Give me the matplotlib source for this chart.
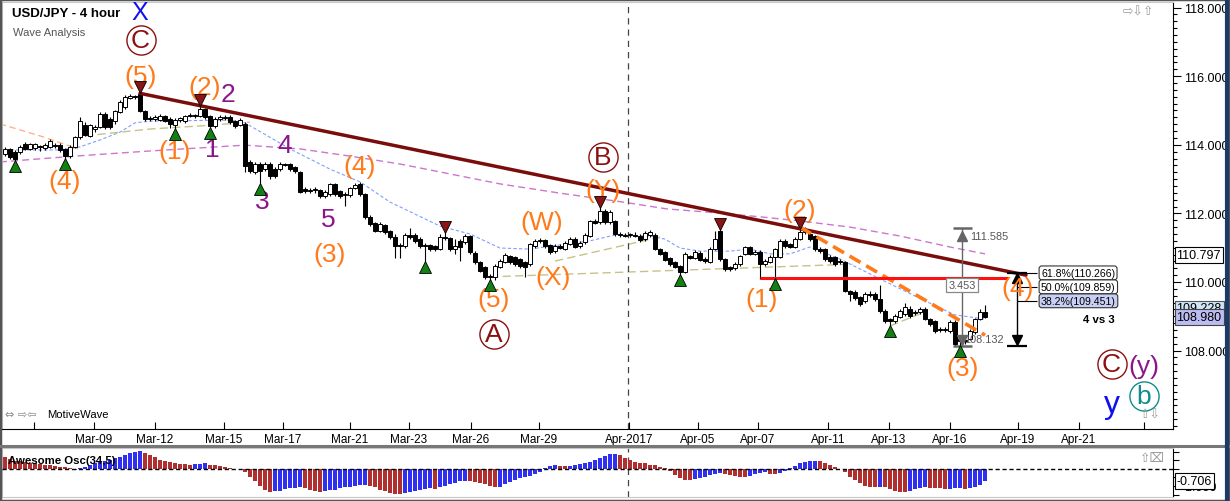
import numpy as np
import matplotlib
matplotlib.use('Agg')
import matplotlib.pyplot as plt
from matplotlib.lines import Line2D
from matplotlib.patches import Rectangle

plt.rcParams['font.family'] = ['Liberation Sans', 'DejaVu Sans']

# ---- 4 hour candles, USD/JPY (index 0 = first visible candle) ----
opens = [
    113.73, 113.88, 113.80, 113.79, 114.02, 113.88, 113.91, 113.96, 113.91, 113.94,
    114.00, 113.99, 113.88, 113.67, 113.94, 114.23, 114.58, 114.26, 114.45, 114.52,
    114.90, 114.75, 114.69, 114.96, 115.10, 115.36, 115.42, 115.48, 114.99, 114.78,
    114.75, 114.72, 114.84, 114.75, 114.58, 114.72, 114.69, 114.84, 114.87, 114.84,
    115.04, 114.84, 114.55, 114.75, 114.78, 114.81, 114.69, 114.58, 114.61, 113.50,
    113.21, 113.44, 113.29, 113.44, 113.29, 113.29, 113.44, 113.44, 113.35, 113.21,
    112.71, 112.65, 112.68, 112.68, 112.51, 112.57, 112.86, 112.65, 112.54, 112.54,
    112.74, 112.86, 112.57, 111.90, 111.72, 111.49, 111.66, 111.49, 111.31, 111.08,
    111.05, 111.37, 111.37, 111.25, 111.08, 111.08, 111.05, 110.96, 111.31, 111.28,
    110.96, 111.20, 111.17, 111.34, 110.85, 110.58, 110.44, 110.17, 110.15, 110.44,
    110.58, 110.76, 110.73, 110.67, 110.58, 110.52, 111.05, 111.20, 111.22, 111.08,
    110.90, 111.05, 110.96, 111.11, 111.25, 111.05, 111.17, 111.34, 111.78, 111.75,
    112.07, 111.75, 111.78, 111.40, 111.37, 111.37, 111.37, 111.34, 111.25, 111.37,
    111.37, 110.96, 110.87, 110.70, 110.58, 110.47, 110.29, 110.76, 110.70, 110.85,
    110.67, 110.58, 110.96, 111.49, 110.67, 110.44, 110.40, 110.52, 110.82, 111.02,
    110.82, 110.87, 110.52, 110.58, 110.73, 110.73, 111.20, 111.11, 111.02, 111.25,
    111.46, 111.40, 111.34, 110.96, 110.96, 110.73, 110.73, 110.61, 110.58, 109.74,
    109.71, 109.56, 109.45, 109.65, 109.65, 109.50, 109.15, 108.92, 108.86, 108.98,
    109.07, 109.21, 109.10, 109.12, 109.21, 108.92, 108.86, 108.63, 108.60, 108.57,
    108.83, 108.34, 108.28, 108.34, 108.55, 108.92, 109.12]
closes = [
    113.88, 113.64, 113.59, 113.94, 113.88, 114.02, 114.02, 113.94, 113.99, 114.11,
    113.97, 113.85, 113.67, 113.94, 114.23, 114.69, 114.29, 114.58, 114.52, 114.90,
    114.52, 114.52, 114.99, 115.25, 115.39, 115.42, 115.38, 114.99, 114.75, 114.75,
    114.80, 114.84, 114.69, 114.61, 114.72, 114.78, 114.84, 114.87, 114.84, 115.04,
    114.81, 114.55, 114.75, 114.81, 114.81, 114.66, 114.55, 114.72, 113.38, 113.24,
    113.44, 113.24, 113.44, 113.09, 113.09, 113.44, 113.41, 113.29, 113.24, 112.62,
    112.65, 112.68, 112.71, 112.51, 112.62, 112.86, 112.57, 112.51, 112.57, 112.74,
    112.83, 112.57, 111.90, 111.69, 111.49, 111.69, 111.46, 111.31, 111.05, 111.05,
    111.37, 111.31, 111.20, 111.05, 111.05, 110.96, 110.96, 111.31, 111.28, 110.96,
    111.05, 111.02, 111.34, 110.87, 110.58, 110.32, 110.15, 110.15, 110.47, 110.61,
    110.79, 110.58, 110.52, 110.47, 110.44, 111.11, 111.20, 111.22, 111.05, 110.87,
    111.05, 111.00, 111.14, 111.25, 111.02, 111.14, 111.37, 111.78, 111.72, 112.07,
    111.75, 112.04, 111.40, 111.37, 111.34, 111.37, 111.34, 111.22, 111.43, 111.46,
    110.96, 110.82, 110.64, 110.52, 110.44, 110.29, 110.82, 110.70, 110.87, 110.64,
    110.61, 110.96, 111.25, 110.67, 110.38, 110.38, 110.52, 110.76, 111.02, 110.82,
    110.87, 110.52, 110.61, 110.73, 110.96, 111.20, 111.05, 111.02, 111.25, 111.46,
    111.49, 111.25, 110.96, 110.90, 110.67, 110.61, 110.52, 110.58, 109.74, 109.65,
    109.53, 109.36, 109.65, 109.62, 109.50, 109.15, 108.86, 108.86, 109.01, 109.15,
    109.27, 109.01, 109.12, 109.21, 108.92, 108.78, 108.57, 108.60, 108.63, 108.83,
    108.19, 108.28, 108.31, 108.57, 108.92, 109.12, 108.98]
highs = [
    113.95, 113.92, 113.85, 114.00, 114.08, 114.06, 114.05, 114.00, 114.04, 114.18,
    114.06, 114.04, 113.92, 113.98, 114.26, 114.81, 114.66, 114.62, 114.58, 114.95,
    114.95, 114.80, 115.02, 115.30, 115.45, 115.47, 115.46, 115.54, 115.02, 114.85,
    114.86, 114.90, 114.88, 114.80, 114.78, 114.82, 114.88, 114.92, 114.90, 115.16,
    115.08, 114.88, 114.80, 114.86, 114.86, 114.86, 114.72, 114.78, 114.66, 113.55,
    113.50, 113.50, 113.50, 113.50, 113.35, 113.50, 113.47, 113.48, 113.38, 113.24,
    112.76, 112.74, 112.76, 112.72, 112.68, 112.90, 112.90, 112.68, 112.62, 112.78,
    112.88, 112.92, 112.60, 111.94, 111.75, 111.75, 111.70, 111.52, 111.40, 111.15,
    111.42, 111.58, 111.42, 111.30, 111.15, 111.12, 111.08, 111.40, 111.46, 111.32,
    111.25, 111.25, 111.40, 111.38, 110.90, 110.62, 110.48, 110.22, 110.52, 110.66,
    110.84, 110.80, 110.76, 110.70, 110.62, 111.15, 111.25, 111.28, 111.26, 111.12,
    111.10, 111.10, 111.20, 111.30, 111.30, 111.20, 111.42, 111.82, 111.84, 112.19,
    112.12, 112.10, 111.82, 111.45, 111.42, 111.42, 111.45, 111.40, 111.50, 111.52,
    111.42, 111.00, 110.90, 110.74, 110.62, 110.50, 110.86, 110.80, 110.92, 110.90,
    110.72, 111.02, 111.48, 111.55, 110.70, 110.48, 110.58, 110.80, 111.06, 111.06,
    110.94, 110.92, 110.66, 110.78, 111.00, 111.25, 111.24, 111.15, 111.30, 111.58,
    111.59, 111.45, 111.38, 111.02, 111.00, 110.78, 110.76, 110.66, 110.62, 109.78,
    109.76, 109.60, 109.70, 109.75, 109.70, 109.92, 109.20, 108.96, 109.06, 109.20,
    109.40, 109.30, 109.18, 109.28, 109.26, 108.96, 108.90, 108.68, 108.68, 108.88,
    108.88, 108.40, 108.38, 108.62, 108.96, 109.20, 109.32]
lows = [
    113.68, 113.60, 113.52, 113.72, 113.84, 113.84, 113.86, 113.82, 113.86, 113.90,
    113.92, 113.80, 113.59, 113.62, 113.90, 114.18, 114.25, 114.22, 114.38, 114.48,
    114.46, 114.46, 114.62, 114.92, 115.05, 115.33, 115.33, 114.95, 114.70, 114.70,
    114.70, 114.68, 114.65, 114.49, 114.46, 114.66, 114.64, 114.80, 114.78, 114.80,
    114.76, 114.49, 114.50, 114.70, 114.72, 114.62, 114.50, 114.55, 113.20, 113.18,
    113.15, 112.86, 113.24, 113.00, 113.02, 113.24, 113.38, 113.24, 113.18, 112.58,
    112.60, 112.60, 112.60, 112.46, 112.46, 112.52, 112.52, 112.46, 112.22, 112.48,
    112.70, 112.52, 111.85, 111.62, 111.45, 111.45, 111.40, 111.25, 110.70, 110.70,
    111.00, 111.25, 111.15, 111.00, 110.58, 110.90, 110.90, 110.92, 111.22, 110.90,
    110.82, 110.61, 111.12, 110.82, 110.52, 110.28, 110.10, 110.06, 110.06, 110.40,
    110.55, 110.52, 110.48, 110.42, 110.15, 110.48, 111.00, 111.15, 111.00, 110.82,
    110.85, 110.95, 110.92, 111.08, 110.98, 111.00, 111.12, 111.30, 111.68, 111.70,
    111.70, 111.70, 111.35, 111.32, 111.30, 111.32, 111.30, 111.18, 111.20, 111.32,
    110.92, 110.78, 110.60, 110.48, 110.40, 110.20, 110.26, 110.66, 110.66, 110.60,
    110.56, 110.55, 110.92, 110.62, 110.32, 110.32, 110.35, 110.48, 110.78, 110.78,
    110.78, 110.08, 110.48, 110.54, 110.10, 110.70, 111.00, 110.98, 110.98, 111.22,
    111.40, 111.20, 110.90, 110.85, 110.62, 110.56, 110.48, 110.52, 109.70, 109.45,
    109.48, 109.30, 109.40, 109.56, 109.45, 109.10, 108.80, 108.72, 108.80, 108.94,
    109.02, 108.96, 109.04, 109.08, 108.88, 108.72, 108.52, 108.55, 108.55, 108.52,
    108.14, 108.13, 108.20, 108.30, 108.48, 108.88, 108.94]

# Awesome Oscillator (34,5), one value per candle
ao = [
    0.69, 0.59, 0.49, 0.45, 0.39, 0.35, 0.33, 0.29, 0.25, 0.22,
    0.18, 0.14, 0.10, 0.04, -0.06, 0.06, 0.14, 0.22, 0.33, 0.43,
    0.49, 0.55, 0.65, 0.73, 0.82, 0.92, 1.00, 1.03, 0.92, 0.82,
    0.69, 0.53, 0.45, 0.39, 0.33, 0.29, 0.28, 0.24, 0.29, 0.31,
    0.35, 0.25, 0.22, 0.18, 0.14, 0.08, 0.02, -0.02, -0.20, -0.45,
    -0.73, -0.98, -1.22, -1.33, -1.32, -1.27, -1.18, -1.12, -1.10, -1.08,
    -1.12, -1.22, -1.29, -1.33, -1.27, -1.24, -1.22, -1.14, -1.08, -1.04,
    -1.02, -0.94, -0.92, -0.98, -1.04, -1.22, -1.31, -1.39, -1.45, -1.47,
    -1.43, -1.37, -1.31, -1.22, -1.18, -1.14, -1.16, -1.08, -0.98, -0.88,
    -0.80, -0.73, -0.69, -0.71, -0.75, -0.82, -0.90, -1.02, -1.08, -1.04,
    -0.90, -0.75, -0.63, -0.53, -0.49, -0.39, -0.29, -0.16, 0.06, 0.16,
    0.24, 0.18, 0.16, 0.17, 0.22, 0.27, 0.35, 0.43, 0.55, 0.65,
    0.75, 0.86, 0.88, 0.82, 0.65, 0.53, 0.39, 0.35, 0.33, 0.25,
    0.22, 0.10, 0.04, -0.10, -0.33, -0.53, -0.63, -0.64, -0.61, -0.55,
    -0.45, -0.35, -0.29, -0.25, -0.29, -0.35, -0.43, -0.45, -0.46, -0.39,
    -0.29, -0.22, -0.20, -0.29, -0.30, -0.24, -0.10, 0.06, 0.16, 0.33,
    0.39, 0.45, 0.47, 0.45, 0.33, 0.24, 0.10, 0.00, -0.20, -0.45,
    -0.63, -0.82, -0.98, -1.04, -1.05, -1.03, -1.08, -1.18, -1.27, -1.33,
    -1.34, -1.27, -1.18, -1.12, -1.08, -1.09, -1.10, -1.13, -1.16, -1.15,
    -1.14, -1.13, -1.16, -1.10, -1.05, -0.92, -0.71]

# moving averages (candle index, price) vertices
ma_fast_i = [0, 11, 15, 19, 23, 26, 29, 45, 48, 57, 65, 71, 77, 87, 93, 99, 105, 111,
             117, 122, 129, 132, 135, 139, 145, 149, 153, 157, 161, 167, 175, 184, 190, 196]
ma_fast_p = [113.85, 113.85, 113.94, 114.14, 114.37, 114.64, 114.69, 114.72, 114.64,
             113.88, 113.29, 112.92, 112.33, 111.63, 111.40, 110.99, 110.96, 111.08,
             111.20, 111.37, 111.34, 111.25, 110.99, 110.90, 110.90, 110.96, 110.82,
             110.82, 111.02, 110.67, 110.09, 109.45, 109.04, 108.92]
ma_slow_i = [-1, 14, 29, 48, 59, 69, 79, 89, 99, 111, 123.6, 132.4, 143, 151, 159,
             169, 179, 189, 196]
ma_slow_p = [113.50, 113.67, 113.82, 113.99, 113.88, 113.67, 113.44, 113.15, 112.86,
             112.59, 112.33, 112.13, 112.01, 111.90, 111.78, 111.60, 111.34, 111.02, 110.82]
ma_orange_i = [-1, 7, 14.6]
ma_orange_p = [114.61, 114.26, 113.88]
tan_segments = [([16, 29, 39, 49], [114.26, 114.46, 114.55, 114.66]),
                ([110, 131], [110.61, 111.31]),
                ([97, 169.6], [110.15, 110.52]),
                ([177, 184], [108.72, 109.13])]

pivot_lows = [2, 12, 34, 41, 51, 84, 97, 135, 154, 177, 191]
pivot_highs = [27, 39, 88, 119, 143, 159]

date_ticks = [5.8, 17.8, 30, 43.8, 55.6, 69, 80.8, 93.2, 106.8, 124.8, 138.6, 150.6,
              164.6, 176.8, 189, 202.6, 214.8, 227.8]
date_labels = ['', 'Mar-09', 'Mar-12', 'Mar-15', 'Mar-17', 'Mar-21', 'Mar-23', 'Mar-26',
               'Mar-29', 'Apr-2017', 'Apr-05', 'Apr-07', 'Apr-11', 'Apr-13', 'Apr-16',
               'Apr-19', 'Apr-21', '']

trend_i = [27, 204.2]
trend_p = [115.50, 110.20]
wave3_i = [159, 196]
wave3_p = [111.60, 108.45]
level_i = [151, 200.6]
level_p = 110.12

fib_labels = ['61.8%(110.266)', '50.0%(109.859)', '38.2%(109.451)']
fib_prices = [110.266, 109.859, 109.451]
measure_top, measure_bot = 111.585, 108.132
last_price, prev_price, line_price = 108.980, 109.228, 110.797
ao_last = -0.706

ORANGE = '#ff7a1a'
DARKRED = '#8b1010'
PURPLE = '#8b158b'

W, H = 1230, 502
fig = plt.figure(figsize=(W / 100, H / 100), dpi=100)


def fx(px):
    return px / W


def fy(py):
    return 1 - py / H


ax = fig.add_axes([fx(2), fy(430), fx(1173) - fx(2), fy(3) - fy(430)])
ax2 = fig.add_axes([fx(2), fy(498), fx(1173) - fx(2), fy(449) - fy(498)], sharex=ax)

n = len(closes)
assert n == len(opens) == len(highs) == len(lows) == len(ao)
x = np.arange(n)
o = np.array(opens)
c = np.array(closes)
hi = np.array(highs)
lo = np.array(lows)

# moving averages / channel lines
ax.plot(ma_orange_i, ma_orange_p, color='#ffab80', lw=0.9, ls=(0, (5, 3)), zorder=1)
ax.plot(ma_slow_i, ma_slow_p, color='#cc77cc', lw=1.0, ls=(0, (5, 3)), zorder=1)
ax.plot(ma_fast_i, ma_fast_p, color='#7f9fff', lw=0.8, ls=(0, (3, 2)), zorder=1)
for si, sp in tan_segments:
    ax.plot(si, sp, color='#c8c28a', lw=1.0, ls=(0, (6, 3)), zorder=1)

# candles
ax.vlines(x, lo, hi, color='black', lw=0.8, zorder=2)
body = np.maximum(np.abs(c - o), 0.025)
colors = np.where(c >= o, 'white', 'black')
ax.bar(x, body, bottom=np.minimum(o, c), width=0.62, color=colors,
       edgecolor='black', linewidth=0.7, zorder=3)

# pivot markers
ax.plot(pivot_lows, lo[pivot_lows] - 0.15, '^', ms=9, mfc='#128012', mec='black',
        mew=0.6, zorder=6)
ax.plot(pivot_highs, hi[pivot_highs] + 0.15, 'v', ms=9, mfc='#8b1414', mec='black',
        mew=0.6, zorder=6)

# trend lines
ax.plot(trend_i, trend_p, color='#7a0c0c', lw=2.5, solid_capstyle='round', zorder=4)
ax.plot(wave3_i, wave3_p, color=ORANGE, lw=2.6, ls=(0, (3.5, 1.8)), zorder=4)
ax.hlines(level_p, level_i[0], level_i[1], color='#ff1010', lw=2.2, zorder=4)

# wave labels
labels = [
    ('X', 27, 117.88, '#1010ee', 18),
    ('(5)', 27.1, 116.01, ORANGE, 19),
    ('(2)', 39.9, 115.69, ORANGE, 19),
    ('2', 44.5, 115.48, PURPLE, 19),
    ('(1)', 34, 113.82, ORANGE, 19),
    ('1', 41.5, 113.88, PURPLE, 19),
    ('(4)', 12, 112.94, ORANGE, 19),
    ('3', 51.5, 112.36, PURPLE, 19),
    ('4', 56, 113.99, PURPLE, 19),
    ('5', 64.6, 111.84, PURPLE, 19),
    ('(4)', 71, 113.38, ORANGE, 19),
    ('(3)', 65, 110.82, ORANGE, 19),
    ('(5)', 97.8, 109.50, ORANGE, 19),
    ('(W)', 107.4, 111.76, ORANGE, 19),
    ('(X)', 109.6, 110.15, ORANGE, 19),
    ('(Y)', 119.6, 112.68, ORANGE, 19),
    ('(1)', 151.4, 109.50, ORANGE, 19),
    ('(2)', 159, 112.10, ORANGE, 19),
    ('(3)', 191.5, 107.49, ORANGE, 19),
    ('(4)', 202.5, 109.83, ORANGE, 19),
    ('(y)', 227.8, 107.55, PURPLE, 19),
    ('y', 221.3, 106.44, '#1010ee', 23),
]
for t, xi, yp, col, fs in labels:
    ax.text(xi, yp, t, color=col, fontsize=fs, ha='center', va='center', zorder=5)

circled = [('C', 27.1, 117.06, DARKRED), ('B', 119.6, 113.64, DARKRED),
           ('A', 97.8, 108.48, DARKRED), ('C', 221.3, 107.61, DARKRED),
           ('b', 227.8, 106.68, '#0f8c8c')]
for t, xi, yp, col in circled:
    ax.plot([xi], [yp], 'o', ms=21, mfc='none', mec=col, mew=1.0, zorder=5)
    ax.text(xi, yp, t, color=col, fontsize=19, ha='center', va='center', zorder=5)

ax.text(218.8, 108.92, '4 vs 3', fontsize=8.2, fontweight='bold', ha='center',
        va='center', zorder=5)

# fib retracement boxes
for lab, fp in zip(fib_labels, fib_prices):
    ax.hlines(fp, 202.4, 206.4, color='black', lw=0.8, zorder=4)
    fc = '#c8cff5' if lab.startswith('38') else 'white'
    ax.text(207.2, fp, lab, fontsize=7.6, ha='left', va='center', zorder=6,
            bbox=dict(boxstyle='round,pad=0.18,rounding_size=0.25', fc=fc,
                      ec='#333333', lw=0.8))

# black wave-4 target arrow
ax.vlines(202.4, measure_bot, fib_prices[0], color='black', lw=1.0, zorder=4)
ax.hlines([fib_prices[0], measure_bot], 200.4, 204.4, color='black', lw=1.6, zorder=4)
ax.plot([202.4], [fib_prices[0] - 0.14], '^', ms=7, color='black', zorder=4)
ax.plot([202.4], [measure_bot + 0.17], 'v', ms=7, color='black', zorder=4)

# grey measure of wave (2)-(3)
ax.vlines(191.4, measure_bot, measure_top, color='#666666', lw=1.0, zorder=4)
ax.hlines([measure_top, measure_bot], 189.6, 193.4, color='#666666', lw=1.8, zorder=4)
ax.plot([191.4], [measure_top - 0.24], '^', ms=7, color='#666666', zorder=4)
ax.plot([191.4], [measure_bot + 0.17], 'v', ms=7, color='#666666', zorder=4)
ax.text(193.0, measure_top - 0.24, '%.3f' % measure_top, fontsize=7.8, color='#555555',
        ha='left', va='center', zorder=5)
ax.text(191.8, measure_bot + 0.2, '%.3f' % measure_bot, fontsize=7.8, color='#555555',
        ha='left', va='center', zorder=3)
ax.text(191.4, 109.91, '%.3f' % (measure_top - measure_bot), fontsize=7.8,
        color='#555555', ha='center', va='center', zorder=6,
        bbox=dict(boxstyle='square,pad=0.2', fc='white', ec='#888888', lw=0.9))

# vertical month divider
for a in (ax, ax2):
    a.axvline(124.6, color='#444444', lw=0.9, ls=(0, (5, 4)), zorder=1)

ax.set_xlim(-0.6, 233.6)
ax.set_ylim(105.714, 118.163)

# axes styling
for s in ('left', 'top'):
    ax.spines[s].set_color('#c8c8c8')
ax.spines['right'].set_color('black')
ax.spines['bottom'].set_color('black')
ax.yaxis.tick_right()
ax.set_yticks(np.arange(108, 118.01, 2))
ax.set_yticklabels(['%.3f' % v for v in np.arange(108, 118.01, 2)], fontsize=9)
ax.set_yticks(np.arange(105.8, 118.1, 0.2), minor=True)
ax.tick_params(axis='y', which='major', length=6, width=0.8, pad=2)
ax.tick_params(axis='y', which='minor', length=3, width=0.8)
ax.set_xticks(date_ticks)
ax.set_xticklabels(date_labels, fontsize=8.5)
ax.tick_params(axis='x', direction='in', length=5, width=0.8, pad=3)

# right axis price tags
tag = dict(fontsize=9, ha='left', va='center', zorder=7, clip_on=False)
ax.text(234.3, prev_price, '%.3f' % prev_price,
        bbox=dict(boxstyle='square,pad=0.15', fc='#cfe6f7', ec='#555555', lw=0.8), **tag)
ax.text(234.3, last_price, '%.3f' % last_price,
        bbox=dict(boxstyle='square,pad=0.15', fc='#bcbcf2', ec='#444444', lw=0.8), **tag)
ax.text(234.3, line_price, '%.3f' % line_price,
        bbox=dict(boxstyle='square,pad=0.15', fc='white', ec='black', lw=0.8), **tag)

# Awesome oscillator panel
ao_arr = np.array(ao)
ao_cols = ['#b03030'] + ['#3030f0' if ao_arr[k] >= ao_arr[k - 1] else '#b03030'
                         for k in range(1, n)]
ax2.bar(x, ao_arr, width=0.8, color=ao_cols, linewidth=0, zorder=2)
ax2.axhline(0, color='black', lw=1.0, ls=(0, (3, 2)), zorder=3)
ax2.set_ylim(-1.647, 1.235)
for s in ('left', 'top', 'bottom'):
    ax2.spines[s].set_color('#c8c8c8')
ax2.spines['right'].set_color('black')
ax2.yaxis.tick_right()
ax2.set_yticks([1.0, 0.5, 0.0, -0.5, -1.0, -1.5])
ax2.set_yticklabels(['', '', '', '', '-1.000', ''], fontsize=9)
ax2.tick_params(axis='y', length=4, width=0.8, pad=2)
ax2.tick_params(axis='x', bottom=False, labelbottom=False)
ax2.text(234.3, ao_last, '%.3f' % ao_last, fontsize=9, ha='left', va='center',
         zorder=7, clip_on=False,
         bbox=dict(boxstyle='square,pad=0.15', fc='white', ec='black', lw=0.8))

# figure texts
fig.text(fx(12), fy(14), 'USD/JPY - 4 hour', fontsize=9.5, fontweight='bold',
         ha='left', va='center')
fig.text(fx(13), fy(33), 'Wave Analysis', fontsize=8, color='#555555', ha='left',
         va='center')
fig.text(fx(8), fy(461), 'Awesome Osc(34,5)', fontsize=8.2, fontweight='bold',
         ha='left', va='center', zorder=10)
fig.text(fx(5), fy(415), '\u21d4 \u21e8\u21e6', fontsize=8, color='#888888',
         family='DejaVu Sans', ha='left', va='center')
fig.text(fx(47), fy(415), 'MotiveWave', fontsize=8.1, ha='left', va='center')
fig.text(fx(1123), fy(12), '\u21e8\u21e9\u21e7', fontsize=9, color='#999999',
         family='DejaVu Sans', ha='left', va='center')
fig.text(fx(1140), fy(415), '\u21e7\u21e9', fontsize=9, color='#999999',
         family='DejaVu Sans', ha='left', va='center')
fig.text(fx(1140), fy(459), '\u21e7\u2327', fontsize=9, color='#999999',
         family='DejaVu Sans', ha='left', va='center')

# panel separator and frame
fig.add_artist(Line2D([0, 1], [fy(446.5), fy(446.5)], color='#777777', lw=2.2))
fig.add_artist(Rectangle((0, 0), 1, 1, transform=fig.transFigure, fill=False,
                         ec='#555555', lw=2.5))
fig.add_artist(Line2D([fx(1227), fx(1227)], [0, 1], color='#1a3a6a', lw=3))

fig.savefig('out.png', dpi=100)
